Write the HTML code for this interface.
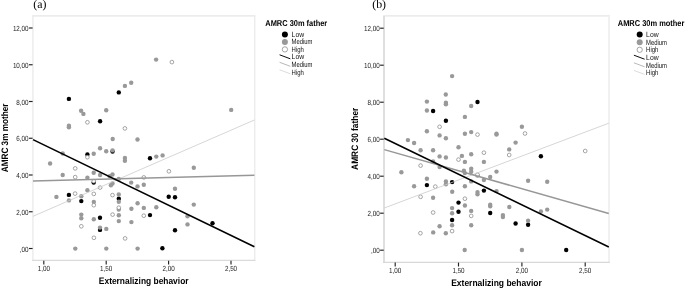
<!DOCTYPE html>
<html lang="en">
<head>
<meta charset="utf-8">
<title>AMRC scatter plots</title>
<style>
html,body{margin:0;padding:0;background:#fff;}
body{width:685px;height:289px;overflow:hidden;}
svg{display:block;}
text{font-family:"Liberation Sans",Arial,sans-serif;fill:#1a1a1a;text-rendering:geometricPrecision;}
.pn{font-family:"Liberation Serif","Times New Roman",serif;font-size:11.8px;fill:#000;}
.tl{font-size:7.4px;fill:#222;}
.tk{stroke:#222;stroke-width:1.15;}
.lt{font-size:8.5px;font-weight:bold;fill:#000;}
.ll{font-size:7.5px;fill:#111;}
.at{font-size:9.4px;font-weight:bold;fill:#000;}
.k{fill:#000;}
.g{fill:#999;}
.o{fill:#fff;stroke:#808080;stroke-width:0.7;}
</style>
</head>
<body>
<svg width="685" height="289" viewBox="0 0 685 289">
<rect x="0" y="0" width="685" height="289" fill="#fff"/>
<text class="pn" x="33.3" y="8.4">(a)</text>
<text class="pn" x="372.3" y="8.4">(b)</text>
<!-- plot a -->
<line x1="32.199999999999996" y1="15.9" x2="255.39999999999998" y2="15.9" stroke="#ececec" stroke-width="1.7"/>
<line x1="254.7" y1="15.9" x2="254.7" y2="260.4" stroke="#ececec" stroke-width="1.4"/>
<line x1="32.9" y1="15.9" x2="32.9" y2="261.04999999999995" stroke="#ebebeb" stroke-width="1.4"/>
<line x1="32.199999999999996" y1="260.4" x2="255.39999999999998" y2="260.4" stroke="#dadada" stroke-width="1.3"/>
<line class="tk" x1="29.0" y1="28.0" x2="32.6" y2="28.0"/>
<text class="tl" text-anchor="end" transform="translate(28.6,31.0) scale(0.85,1)">12,00</text>
<line class="tk" x1="29.0" y1="64.75" x2="32.6" y2="64.75"/>
<text class="tl" text-anchor="end" transform="translate(28.6,67.8) scale(0.85,1)">10,00</text>
<line class="tk" x1="29.0" y1="101.5" x2="32.6" y2="101.5"/>
<text class="tl" text-anchor="end" transform="translate(28.6,104.5) scale(0.85,1)">8,00</text>
<line class="tk" x1="29.0" y1="138.25" x2="32.6" y2="138.25"/>
<text class="tl" text-anchor="end" transform="translate(28.6,141.2) scale(0.85,1)">6,00</text>
<line class="tk" x1="29.0" y1="175.0" x2="32.6" y2="175.0"/>
<text class="tl" text-anchor="end" transform="translate(28.6,178.0) scale(0.85,1)">4,00</text>
<line class="tk" x1="29.0" y1="211.75" x2="32.6" y2="211.75"/>
<text class="tl" text-anchor="end" transform="translate(28.6,214.8) scale(0.85,1)">2,00</text>
<line class="tk" x1="29.0" y1="248.5" x2="32.6" y2="248.5"/>
<text class="tl" text-anchor="end" transform="translate(28.6,251.5) scale(0.85,1)">,00</text>
<line class="tk" x1="43.8" y1="260.7" x2="43.8" y2="264.6"/>
<text class="tl" text-anchor="middle" transform="translate(43.8,271.2) scale(0.85,1)">1,00</text>
<line class="tk" x1="106.2" y1="260.7" x2="106.2" y2="264.6"/>
<text class="tl" text-anchor="middle" transform="translate(106.2,271.2) scale(0.85,1)">1,50</text>
<line class="tk" x1="168.6" y1="260.7" x2="168.6" y2="264.6"/>
<text class="tl" text-anchor="middle" transform="translate(168.6,271.2) scale(0.85,1)">2,00</text>
<line class="tk" x1="231.0" y1="260.7" x2="231.0" y2="264.6"/>
<text class="tl" text-anchor="middle" transform="translate(231.0,271.2) scale(0.85,1)">2,50</text>
<g>
<circle class="k" cx="118.8" cy="92.4" r="2.2"/>
<circle class="k" cx="68.9" cy="98.9" r="2.2"/>
<circle class="k" cx="100.1" cy="121.3" r="2.2"/>
<circle class="k" cx="87.4" cy="154.5" r="2.2"/>
<circle class="k" cx="93.7" cy="182.6" r="2.2"/>
<circle class="k" cx="68.9" cy="194.9" r="2.2"/>
<circle class="k" cx="81.3" cy="201.1" r="2.2"/>
<circle class="k" cx="118.8" cy="198.8" r="2.2"/>
<circle class="k" cx="100.0" cy="217.7" r="2.2"/>
<circle class="k" cx="100.0" cy="229.9" r="2.2"/>
<circle class="k" cx="150.0" cy="158.2" r="2.2"/>
<circle class="k" cx="112.55" cy="151.5" r="2.2"/>
<circle class="k" cx="168.7" cy="196.7" r="2.2"/>
<circle class="k" cx="175.0" cy="197.3" r="2.2"/>
<circle class="k" cx="150.0" cy="215.1" r="2.2"/>
<circle class="k" cx="212.5" cy="223.2" r="2.2"/>
<circle class="k" cx="175.0" cy="230.3" r="2.2"/>
<circle class="k" cx="162.4" cy="248.3" r="2.2"/>
<circle class="g" cx="124.9" cy="85.9" r="2.2"/>
<circle class="g" cx="131.2" cy="82.7" r="2.2"/>
<circle class="g" cx="156.1" cy="59.6" r="2.2"/>
<circle class="g" cx="81.1" cy="110.8" r="2.2"/>
<circle class="g" cx="83.4" cy="113.9" r="2.2"/>
<circle class="g" cx="106.2" cy="110.2" r="2.2"/>
<circle class="g" cx="68.9" cy="125.8" r="2.2"/>
<circle class="g" cx="68.9" cy="127.2" r="2.2"/>
<circle class="g" cx="112.7" cy="139.0" r="2.2"/>
<circle class="g" cx="137.5" cy="139.5" r="2.2"/>
<circle class="g" cx="231.2" cy="109.9" r="2.2"/>
<circle class="g" cx="50.1" cy="163.5" r="2.2"/>
<circle class="g" cx="62.7" cy="153.5" r="2.2"/>
<circle class="g" cx="62.7" cy="175.0" r="2.2"/>
<circle class="g" cx="93.7" cy="153.7" r="2.2"/>
<circle class="g" cx="100.1" cy="148.2" r="2.2"/>
<circle class="g" cx="106.2" cy="151.2" r="2.2"/>
<circle class="g" cx="112.55" cy="150.4" r="2.2"/>
<circle class="g" cx="124.9" cy="157.9" r="2.2"/>
<circle class="g" cx="124.9" cy="160.7" r="2.2"/>
<circle class="g" cx="93.7" cy="172.7" r="2.2"/>
<circle class="g" cx="100.1" cy="175.0" r="2.2"/>
<circle class="g" cx="87.4" cy="177.7" r="2.2"/>
<circle class="g" cx="112.5" cy="174.5" r="2.2"/>
<circle class="g" cx="109.7" cy="176.3" r="2.2"/>
<circle class="g" cx="118.8" cy="178.9" r="2.2"/>
<circle class="g" cx="131.2" cy="182.6" r="2.2"/>
<circle class="g" cx="112.5" cy="183.4" r="2.2"/>
<circle class="g" cx="110.9" cy="185.2" r="2.2"/>
<circle class="g" cx="137.5" cy="186.4" r="2.2"/>
<circle class="g" cx="143.8" cy="184.7" r="2.2"/>
<circle class="g" cx="87.4" cy="190.3" r="2.2"/>
<circle class="g" cx="156.3" cy="156.6" r="2.2"/>
<circle class="g" cx="162.6" cy="155.4" r="2.2"/>
<circle class="g" cx="193.8" cy="167.7" r="2.2"/>
<circle class="g" cx="175.0" cy="188.8" r="2.2"/>
<circle class="g" cx="56.4" cy="196.9" r="2.2"/>
<circle class="g" cx="68.9" cy="200.4" r="2.2"/>
<circle class="g" cx="81.3" cy="196.2" r="2.2"/>
<circle class="g" cx="93.8" cy="201.9" r="2.2"/>
<circle class="g" cx="81.3" cy="214.6" r="2.2"/>
<circle class="g" cx="81.3" cy="218.2" r="2.2"/>
<circle class="g" cx="93.8" cy="219.3" r="2.2"/>
<circle class="g" cx="100.0" cy="227.6" r="2.2"/>
<circle class="g" cx="106.3" cy="228.9" r="2.2"/>
<circle class="g" cx="118.8" cy="194.4" r="2.2"/>
<circle class="g" cx="118.8" cy="201.7" r="2.2"/>
<circle class="g" cx="118.8" cy="209.6" r="2.2"/>
<circle class="g" cx="137.6" cy="203.2" r="2.2"/>
<circle class="g" cx="131.4" cy="208.8" r="2.2"/>
<circle class="g" cx="143.8" cy="207.9" r="2.2"/>
<circle class="g" cx="156.3" cy="207.3" r="2.2"/>
<circle class="g" cx="118.8" cy="215.2" r="2.2"/>
<circle class="g" cx="118.8" cy="221.1" r="2.2"/>
<circle class="g" cx="131.4" cy="222.1" r="2.2"/>
<circle class="g" cx="193.8" cy="204.6" r="2.2"/>
<circle class="g" cx="187.5" cy="216.2" r="2.2"/>
<circle class="g" cx="187.5" cy="224.4" r="2.2"/>
<circle class="g" cx="75.3" cy="248.6" r="2.2"/>
<circle class="g" cx="106.3" cy="248.6" r="2.2"/>
<circle class="g" cx="137.6" cy="248.6" r="2.2"/>
<circle class="o" cx="171.9" cy="62.1" r="1.85"/>
<circle class="o" cx="87.4" cy="122.3" r="1.85"/>
<circle class="o" cx="124.9" cy="128.4" r="1.85"/>
<circle class="o" cx="75.2" cy="168.4" r="1.85"/>
<circle class="o" cx="75.2" cy="177.1" r="1.85"/>
<circle class="o" cx="87.4" cy="157.2" r="1.85"/>
<circle class="o" cx="93.7" cy="181.2" r="1.85"/>
<circle class="o" cx="143.8" cy="177.4" r="1.85"/>
<circle class="o" cx="100.1" cy="187.6" r="1.85"/>
<circle class="o" cx="168.9" cy="171.3" r="1.85"/>
<circle class="o" cx="75.1" cy="193.6" r="1.85"/>
<circle class="o" cx="93.8" cy="193.9" r="1.85"/>
<circle class="o" cx="93.8" cy="205.2" r="1.85"/>
<circle class="o" cx="81.3" cy="226.3" r="1.85"/>
<circle class="o" cx="112.5" cy="195.1" r="1.85"/>
<circle class="o" cx="118.8" cy="207.7" r="1.85"/>
<circle class="o" cx="112.6" cy="214.6" r="1.85"/>
<circle class="o" cx="143.8" cy="215.7" r="1.85"/>
<circle class="o" cx="93.9" cy="237.8" r="1.85"/>
<circle class="o" cx="125.1" cy="238.4" r="1.85"/>
</g>
<line x1="33.0" y1="216.3" x2="254.4" y2="120.0" stroke="#ccc" stroke-width="0.8"/>
<line x1="33.0" y1="180.9" x2="254.4" y2="175.2" stroke="#979797" stroke-width="1.5"/>
<line x1="33.0" y1="139.6" x2="254.4" y2="246.7" stroke="#000" stroke-width="1.6"/>
<text class="at" x="143.7" y="283.9" text-anchor="middle" textLength="89.7" lengthAdjust="spacingAndGlyphs">Externalizing behavior</text>
<text class="at" transform="translate(7.6,137.9) rotate(-90)" text-anchor="middle" textLength="68.8" lengthAdjust="spacingAndGlyphs">AMRC 3m mother</text>
<text class="lt" x="265.3" y="25.8" textLength="61.9" lengthAdjust="spacingAndGlyphs">AMRC 30m father</text>
<text class="ll" transform="translate(291.6,36.90) rotate(0.03)" textLength="12.5" lengthAdjust="spacingAndGlyphs">Low</text>
<text class="ll" transform="translate(291.6,44.42) rotate(0.03)" textLength="20.9" lengthAdjust="spacingAndGlyphs">Medium</text>
<text class="ll" transform="translate(291.6,51.94) rotate(0.03)" textLength="12.3" lengthAdjust="spacingAndGlyphs">High</text>
<text class="ll" transform="translate(291.6,59.46) rotate(0.03)" textLength="12.5" lengthAdjust="spacingAndGlyphs">Low</text>
<text class="ll" transform="translate(291.6,66.98) rotate(0.03)" textLength="20.9" lengthAdjust="spacingAndGlyphs">Medium</text>
<text class="ll" transform="translate(291.6,74.50) rotate(0.03)" textLength="12.3" lengthAdjust="spacingAndGlyphs">High</text>
<circle cx="284.9" cy="34.4" r="3" fill="#000"/>
<circle cx="284.9" cy="41.9" r="3" fill="#999"/>
<circle cx="284.9" cy="49.4" r="2.65" fill="#fff" stroke="#808080" stroke-width="0.7"/>
<line x1="279.6" y1="54.8" x2="290.3" y2="58.8" stroke="#000" stroke-width="0.95"/>
<line x1="279.6" y1="62.3" x2="290.3" y2="66.3" stroke="#999" stroke-width="0.7"/>
<line x1="279.6" y1="69.8" x2="290.3" y2="73.8" stroke="#ccc" stroke-width="0.7"/>
<!-- plot b -->
<line x1="383.15" y1="15.9" x2="609.9" y2="15.9" stroke="#ececec" stroke-width="1.7"/>
<line x1="609.0" y1="15.9" x2="609.0" y2="262.3" stroke="#f0f0f0" stroke-width="1.8"/>
<line x1="384.0" y1="15.9" x2="384.0" y2="262.95" stroke="#dadada" stroke-width="1.7"/>
<line x1="383.15" y1="262.3" x2="609.9" y2="262.3" stroke="#d8d8d8" stroke-width="1.3"/>
<line class="tk" x1="380.1" y1="28.2" x2="383.7" y2="28.2"/>
<text class="tl" text-anchor="end" transform="translate(379.7,31.2) scale(0.85,1)">12,00</text>
<line class="tk" x1="380.1" y1="65.2" x2="383.7" y2="65.2"/>
<text class="tl" text-anchor="end" transform="translate(379.7,68.2) scale(0.85,1)">10,00</text>
<line class="tk" x1="380.1" y1="102.2" x2="383.7" y2="102.2"/>
<text class="tl" text-anchor="end" transform="translate(379.7,105.2) scale(0.85,1)">8,00</text>
<line class="tk" x1="380.1" y1="139.2" x2="383.7" y2="139.2"/>
<text class="tl" text-anchor="end" transform="translate(379.7,142.2) scale(0.85,1)">6,00</text>
<line class="tk" x1="380.1" y1="176.2" x2="383.7" y2="176.2"/>
<text class="tl" text-anchor="end" transform="translate(379.7,179.2) scale(0.85,1)">4,00</text>
<line class="tk" x1="380.1" y1="213.2" x2="383.7" y2="213.2"/>
<text class="tl" text-anchor="end" transform="translate(379.7,216.2) scale(0.85,1)">2,00</text>
<line class="tk" x1="380.1" y1="250.2" x2="383.7" y2="250.2"/>
<text class="tl" text-anchor="end" transform="translate(379.7,253.2) scale(0.85,1)">,00</text>
<line class="tk" x1="395.2" y1="262.6" x2="395.2" y2="266.5"/>
<text class="tl" text-anchor="middle" transform="translate(395.2,273.0) scale(0.85,1)">1,00</text>
<line class="tk" x1="458.5" y1="262.6" x2="458.5" y2="266.5"/>
<text class="tl" text-anchor="middle" transform="translate(458.5,273.0) scale(0.85,1)">1,50</text>
<line class="tk" x1="521.9" y1="262.6" x2="521.9" y2="266.5"/>
<text class="tl" text-anchor="middle" transform="translate(521.9,273.0) scale(0.85,1)">2,00</text>
<line class="tk" x1="585.2" y1="262.6" x2="585.2" y2="266.5"/>
<text class="tl" text-anchor="middle" transform="translate(585.2,273.0) scale(0.85,1)">2,50</text>
<g>
<circle class="k" cx="477.5" cy="102.0" r="2.2"/>
<circle class="k" cx="433.1" cy="111.0" r="2.2"/>
<circle class="k" cx="445.9" cy="120.8" r="2.2"/>
<circle class="k" cx="426.9" cy="185.1" r="2.2"/>
<circle class="k" cx="452.1" cy="182.1" r="2.2"/>
<circle class="k" cx="483.9" cy="190.6" r="2.2"/>
<circle class="k" cx="458.5" cy="202.6" r="2.2"/>
<circle class="k" cx="458.5" cy="211.7" r="2.2"/>
<circle class="k" cx="452.1" cy="220.0" r="2.2"/>
<circle class="k" cx="490.2" cy="213.0" r="2.2"/>
<circle class="k" cx="540.9" cy="156.3" r="2.2"/>
<circle class="k" cx="515.6" cy="223.5" r="2.2"/>
<circle class="k" cx="528.1" cy="224.8" r="2.2"/>
<circle class="k" cx="566.2" cy="250.0" r="2.2"/>
<circle class="g" cx="452.1" cy="76.1" r="2.2"/>
<circle class="g" cx="445.8" cy="94.5" r="2.2"/>
<circle class="g" cx="426.9" cy="101.6" r="2.2"/>
<circle class="g" cx="445.9" cy="102.8" r="2.2"/>
<circle class="g" cx="445.9" cy="104.2" r="2.2"/>
<circle class="g" cx="471.2" cy="106.0" r="2.2"/>
<circle class="g" cx="426.9" cy="110.5" r="2.2"/>
<circle class="g" cx="464.9" cy="116.9" r="2.2"/>
<circle class="g" cx="426.9" cy="131.2" r="2.2"/>
<circle class="g" cx="439.6" cy="135.4" r="2.2"/>
<circle class="g" cx="445.9" cy="138.3" r="2.2"/>
<circle class="g" cx="407.9" cy="140.1" r="2.2"/>
<circle class="g" cx="414.1" cy="143.0" r="2.2"/>
<circle class="g" cx="420.6" cy="150.2" r="2.2"/>
<circle class="g" cx="433.1" cy="150.2" r="2.2"/>
<circle class="g" cx="464.9" cy="133.8" r="2.2"/>
<circle class="g" cx="471.2" cy="132.1" r="2.2"/>
<circle class="g" cx="496.5" cy="133.8" r="2.2"/>
<circle class="g" cx="496.5" cy="134.6" r="2.2"/>
<circle class="g" cx="458.5" cy="147.2" r="2.2"/>
<circle class="g" cx="471.2" cy="154.2" r="2.2"/>
<circle class="g" cx="509.2" cy="149.4" r="2.2"/>
<circle class="g" cx="521.9" cy="126.7" r="2.2"/>
<circle class="g" cx="515.6" cy="142.6" r="2.2"/>
<circle class="g" cx="439.6" cy="156.4" r="2.2"/>
<circle class="g" cx="445.9" cy="157.5" r="2.2"/>
<circle class="g" cx="433.1" cy="161.4" r="2.2"/>
<circle class="g" cx="439.6" cy="167.1" r="2.2"/>
<circle class="g" cx="401.4" cy="172.3" r="2.2"/>
<circle class="g" cx="426.9" cy="178.7" r="2.2"/>
<circle class="g" cx="461.9" cy="155.9" r="2.2"/>
<circle class="g" cx="464.9" cy="161.9" r="2.2"/>
<circle class="g" cx="483.9" cy="161.9" r="2.2"/>
<circle class="g" cx="463.9" cy="170.8" r="2.2"/>
<circle class="g" cx="464.9" cy="173.1" r="2.2"/>
<circle class="g" cx="471.2" cy="168.7" r="2.2"/>
<circle class="g" cx="471.2" cy="171.8" r="2.2"/>
<circle class="g" cx="496.5" cy="171.6" r="2.2"/>
<circle class="g" cx="490.2" cy="177.0" r="2.2"/>
<circle class="g" cx="483.9" cy="180.0" r="2.2"/>
<circle class="g" cx="414.1" cy="186.2" r="2.2"/>
<circle class="g" cx="445.9" cy="181.4" r="2.2"/>
<circle class="g" cx="445.9" cy="184.3" r="2.2"/>
<circle class="g" cx="452.2" cy="191.7" r="2.2"/>
<circle class="g" cx="433.1" cy="197.8" r="2.2"/>
<circle class="g" cx="464.9" cy="186.2" r="2.2"/>
<circle class="g" cx="471.2" cy="181.4" r="2.2"/>
<circle class="g" cx="477.5" cy="175.5" r="2.2"/>
<circle class="g" cx="477.5" cy="192.1" r="2.2"/>
<circle class="g" cx="477.5" cy="194.2" r="2.2"/>
<circle class="g" cx="496.5" cy="191.1" r="2.2"/>
<circle class="g" cx="464.9" cy="205.5" r="2.2"/>
<circle class="g" cx="490.2" cy="204.7" r="2.2"/>
<circle class="g" cx="490.2" cy="206.2" r="2.2"/>
<circle class="g" cx="528.1" cy="180.8" r="2.2"/>
<circle class="g" cx="547.2" cy="181.7" r="2.2"/>
<circle class="g" cx="509.3" cy="207.0" r="2.2"/>
<circle class="g" cx="540.9" cy="211.5" r="2.2"/>
<circle class="g" cx="547.2" cy="209.6" r="2.2"/>
<circle class="g" cx="528.1" cy="220.7" r="2.2"/>
<circle class="g" cx="521.9" cy="250.0" r="2.2"/>
<circle class="g" cx="439.6" cy="226.3" r="2.2"/>
<circle class="g" cx="452.1" cy="208.1" r="2.2"/>
<circle class="g" cx="452.1" cy="213.3" r="2.2"/>
<circle class="g" cx="452.1" cy="225.3" r="2.2"/>
<circle class="g" cx="471.2" cy="210.9" r="2.2"/>
<circle class="g" cx="471.2" cy="225.3" r="2.2"/>
<circle class="g" cx="502.9" cy="215.1" r="2.2"/>
<circle class="g" cx="502.9" cy="217.1" r="2.2"/>
<circle class="g" cx="433.2" cy="232.4" r="2.2"/>
<circle class="g" cx="445.8" cy="233.2" r="2.2"/>
<circle class="g" cx="464.7" cy="250.0" r="2.2"/>
<circle class="o" cx="439.6" cy="126.8" r="1.85"/>
<circle class="o" cx="477.5" cy="134.6" r="1.85"/>
<circle class="o" cx="483.9" cy="152.7" r="1.85"/>
<circle class="o" cx="509.2" cy="155.0" r="1.85"/>
<circle class="o" cx="525.0" cy="133.5" r="1.85"/>
<circle class="o" cx="585.2" cy="151.0" r="1.85"/>
<circle class="o" cx="420.6" cy="165.6" r="1.85"/>
<circle class="o" cx="458.5" cy="159.6" r="1.85"/>
<circle class="o" cx="477.5" cy="174.7" r="1.85"/>
<circle class="o" cx="435.3" cy="186.6" r="1.85"/>
<circle class="o" cx="420.6" cy="196.8" r="1.85"/>
<circle class="o" cx="464.9" cy="198.7" r="1.85"/>
<circle class="o" cx="433.1" cy="212.5" r="1.85"/>
<circle class="o" cx="471.2" cy="215.9" r="1.85"/>
<circle class="o" cx="420.4" cy="233.2" r="1.85"/>
<circle class="o" cx="452.1" cy="231.1" r="1.85"/>
</g>
<line x1="384.3" y1="208.0" x2="608.8" y2="123.2" stroke="#ccc" stroke-width="0.8"/>
<line x1="384.3" y1="149.6" x2="608.8" y2="213.5" stroke="#979797" stroke-width="1.5"/>
<line x1="384.3" y1="138.2" x2="608.8" y2="247.0" stroke="#000" stroke-width="1.55"/>
<text class="at" x="496.5" y="286.0" text-anchor="middle" textLength="90.6" lengthAdjust="spacingAndGlyphs">Externalizing behavior</text>
<text class="at" transform="translate(358.4,138.8) rotate(-90)" text-anchor="middle" textLength="62.2" lengthAdjust="spacingAndGlyphs">AMRC 30 father</text>
<text class="lt" x="617.8000000000001" y="26.0" textLength="66.6" lengthAdjust="spacingAndGlyphs">AMRC 30m mother</text>
<text class="ll" transform="translate(646.1,37.10) rotate(0.03)" textLength="12.5" lengthAdjust="spacingAndGlyphs">Low</text>
<text class="ll" transform="translate(646.1,44.70) rotate(0.03)" textLength="20.9" lengthAdjust="spacingAndGlyphs">Medium</text>
<text class="ll" transform="translate(646.1,52.30) rotate(0.03)" textLength="12.3" lengthAdjust="spacingAndGlyphs">High</text>
<text class="ll" transform="translate(646.1,59.90) rotate(0.03)" textLength="12.5" lengthAdjust="spacingAndGlyphs">Low</text>
<text class="ll" transform="translate(646.1,67.50) rotate(0.03)" textLength="20.9" lengthAdjust="spacingAndGlyphs">Medium</text>
<text class="ll" transform="translate(646.1,75.10) rotate(0.03)" textLength="12.3" lengthAdjust="spacingAndGlyphs">High</text>
<circle cx="639.7" cy="34.6" r="3" fill="#000"/>
<circle cx="639.7" cy="42.2" r="3" fill="#999"/>
<circle cx="639.7" cy="49.8" r="2.65" fill="#fff" stroke="#808080" stroke-width="0.7"/>
<line x1="633.9" y1="55.2" x2="644.6" y2="59.2" stroke="#000" stroke-width="0.95"/>
<line x1="633.9" y1="62.8" x2="644.6" y2="66.8" stroke="#999" stroke-width="0.7"/>
<line x1="633.9" y1="70.4" x2="644.6" y2="74.4" stroke="#ccc" stroke-width="0.7"/>
</svg>
</body>
</html>
